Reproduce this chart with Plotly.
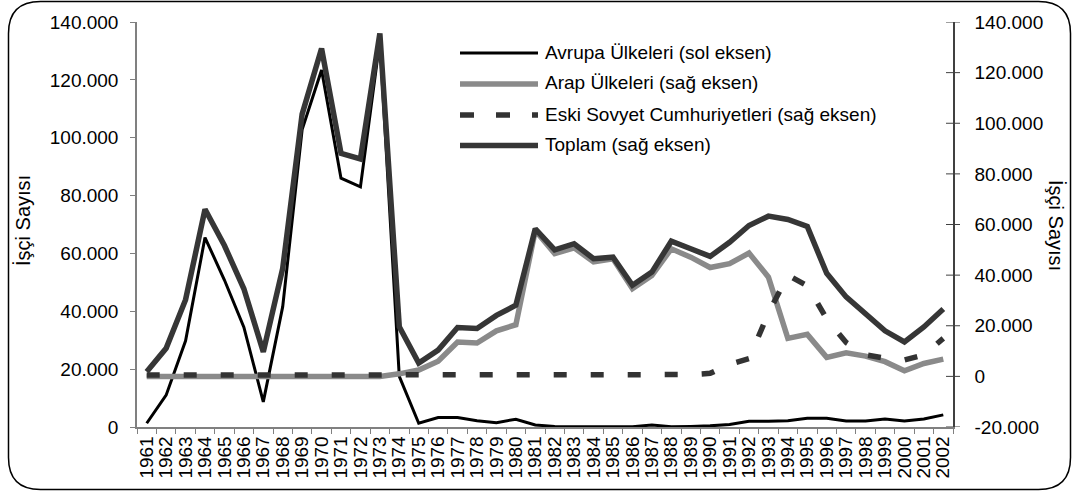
import plotly.graph_objects as go

# ---------------- data ----------------
years = [str(y) for y in range(1961, 2003)]

avrupa = [1300, 11000, 29800, 65500, 50800, 34500, 8700, 41600, 102800, 123400,
          86000, 83000, 133500, 17500, 1300, 3300, 3300, 2200, 1500, 2700,
          700, 200, 100, 100, 100, 100, 700, 100, 200, 400,
          900, 2000, 2000, 2200, 3000, 3000, 2100, 2100, 2800, 2100,
          2800, 4200]

arap = [0, 0, 0, 0, 0, 0, 0, 0, 0, 0,
        0, 0, 0, 1000, 2500, 6000, 13600, 13200, 18000, 20400,
        57600, 48500, 50800, 45200, 46500, 34700, 39900, 50400, 47100, 43000,
        44500, 48700, 39200, 15000, 16600, 7500, 9300, 8000, 5800, 2200,
        5100, 6800]

sovyet = [500, 500, 500, 500, 500, 500, 500, 500, 500, 500,
          500, 500, 500, 500, 500, 500, 500, 500, 500, 500,
          500, 500, 500, 500, 500, 500, 500, 500, 700, 1200,
          4800, 7000, 25000, 40000, 35800, 22700, 13400, 8500, 7200, 6500,
          8500, 15000]

toplam = [1800, 11100, 30300, 66000, 51700, 34600, 9700, 42700, 103600, 129500,
          88100, 85900, 135500, 19600, 5300, 10400, 19300, 18900, 24100, 28100,
          58300, 50000, 52400, 46500, 47100, 36000, 41200, 53400, 50400, 47400,
          53000, 59600, 63300, 62000, 59200, 40700, 31400, 24800, 18000, 13600,
          19500, 26600]

series_names = ["Avrupa Ülkeleri (sol eksen)",
                "Arap Ülkeleri (sağ eksen)",
                "Eski Sovyet Cumhuriyetleri (sağ eksen)",
                "Toplam (sağ eksen)"]

left_ticks = [0, 20000, 40000, 60000, 80000, 100000, 120000, 140000]
left_tick_labels = ["0", "20.000", "40.000", "60.000", "80.000", "100.000", "120.000", "140.000"]
right_ticks = [-20000, 0, 20000, 40000, 60000, 80000, 100000, 120000, 140000]
right_tick_labels = ["-20.000", "0", "20.000", "40.000", "60.000", "80.000", "100.000", "120.000", "140.000"]
axis_title = "İşçi Sayısı"

# ---------------- layout geometry ----------------
W, H = 1075, 492
ML, MR, MT, MB = 137, 122, 22, 65
PW = W - ML - MR
PH = H - MT - MB
FONT = "Liberation Sans, Arial, sans-serif"


def px(x):
    return (x - ML) / PW


def py(y):
    return (H - MB - y) / PH


styles = [
    dict(color="#000000", width=3),
    dict(color="#8a8a8a", width=5.5),
    dict(color="#333333", width=5.5, dash="13px,24px"),
    dict(color="#363636", width=5.5),
]

fig = go.Figure()
fig.add_trace(go.Scatter(x=years, y=avrupa, mode="lines", name=series_names[0],
                         line=styles[0], yaxis="y", showlegend=False))
fig.add_trace(go.Scatter(x=years, y=arap, mode="lines", name=series_names[1],
                         line=styles[1], yaxis="y2", showlegend=False))
fig.add_trace(go.Scatter(x=years, y=sovyet, mode="lines", name=series_names[2],
                         line=styles[2], yaxis="y2", showlegend=False))
fig.add_trace(go.Scatter(x=years, y=toplam, mode="lines", name=series_names[3],
                         line=styles[3], yaxis="y2", showlegend=False))

shapes = []
annotations = []

# rounded outer border
L, R, T, B, r = 8.5, 1070.5, 1.5, 489.5, 32
pts = [
    ("M", L, T + r), ("Q", L, T, L + r, T), ("L", R - r, T), ("Q", R, T, R, T + r),
    ("L", R, B - r), ("Q", R, B, R - r, B), ("L", L + r, B), ("Q", L, B, L, B - r),
]
path = ""
for p in pts:
    cmd = p[0]
    coords = p[1:]
    parts = []
    for i in range(0, len(coords), 2):
        parts.append(f"{px(coords[i]):.5f},{py(coords[i+1]):.5f}")
    path += cmd + " " + " ".join(parts) + " "
path += "Z"
shapes.append(dict(type="path", xref="paper", yref="paper", path=path,
                   line=dict(color="#000000", width=1.5), layer="above"))

# crossing ticks on the right axis (drawn as shapes; axis ticks kept invisible)
for tv in right_ticks:
    shapes.append(dict(type="line", xref="paper", yref="y2", x0=1 - 7 / PW, x1=1 + 7 / PW,
                       y0=tv, y1=tv, line=dict(color="#404040", width=1), layer="above"))

# manual legend
leg_rows = [53, 84, 115, 145.5]
leg_dash = [None, None, "14px,22px", None]
for i, name in enumerate(series_names):
    ln = dict(color=styles[i]["color"], width=styles[i]["width"])
    if leg_dash[i]:
        ln["dash"] = leg_dash[i]
    shapes.append(dict(type="line", xref="paper", yref="paper",
                       x0=px(460), x1=px(538), y0=py(leg_rows[i]), y1=py(leg_rows[i]),
                       line=ln, layer="above"))
    annotations.append(dict(text=name, xref="paper", yref="paper",
                            x=px(543), y=py(leg_rows[i] - 1), xanchor="left", yanchor="middle",
                            showarrow=False, font=dict(family=FONT, size=19, color="#000000")))

# axis titles
annotations.append(dict(text=axis_title, xref="paper", yref="paper", x=px(23), y=py(221),
                        textangle=-90, xanchor="center", yanchor="middle", showarrow=False,
                        font=dict(family=FONT, size=20, color="#000000")))
annotations.append(dict(text=axis_title, xref="paper", yref="paper", x=px(1056), y=py(225),
                        textangle=90, xanchor="center", yanchor="middle", showarrow=False,
                        font=dict(family=FONT, size=20, color="#000000")))

fig.update_layout(
    width=W, height=H,
    margin=dict(l=ML, r=MR, t=MT, b=MB, pad=0),
    paper_bgcolor="white", plot_bgcolor="white",
    font=dict(family=FONT, size=19, color="#000000"),
    showlegend=False,
    xaxis=dict(type="category", categoryorder="array", categoryarray=years,
               range=[-0.5, len(years) - 0.5],
               tickmode="array", tickvals=years, ticktext=years,
               tickson="boundaries", ticks="outside", ticklen=5, tickwidth=1,
               tickcolor="#808080", showline=True, linecolor="#808080", linewidth=1.5,
               tickangle=-90, tickfont=dict(family=FONT, size=19, color="#000000"),
               showgrid=False, zeroline=False),
    yaxis=dict(range=[0, 140000], tickmode="array", tickvals=left_ticks, ticktext=left_tick_labels,
               ticks="outside", ticklen=5, tickcolor="#808080", showline=True,
               linecolor="#808080", linewidth=1.5, showgrid=False, zeroline=False,
               tickfont=dict(family=FONT, size=19, color="#000000"), ticklabelstandoff=8),
    yaxis2=dict(range=[-20000, 140000], overlaying="y", side="right", tickmode="array",
                tickvals=right_ticks, ticktext=right_tick_labels, ticks="outside", ticklen=16,
                tickcolor="rgba(0,0,0,0)", showline=True, linecolor="#404040", linewidth=1.5,
                showgrid=False, zeroline=False,
                tickfont=dict(family=FONT, size=19, color="#000000")),
    shapes=shapes,
    annotations=annotations,
)

fig.write_html("out.html", config={"displayModeBar": False},
               post_script="document.body.style.margin='0';document.body.style.padding='0';")
